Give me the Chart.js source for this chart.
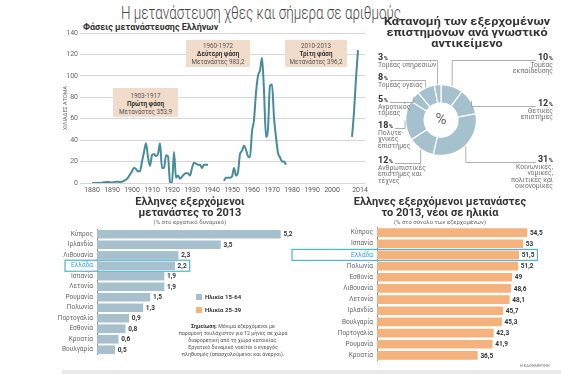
<!DOCTYPE html>
<html>
<head>
<meta charset="utf-8">
<script src="https://cdn.jsdelivr.net/npm/chart.js@4.4.1/dist/chart.umd.min.js"></script>
<style>
  body { margin: 0; background: #fff; font-family: Roboto, 'Liberation Sans', sans-serif; }
  #wrap { position: relative; width: 561px; height: 374px; overflow: hidden; background: #fff; }
  canvas { position: absolute; }
  .t { position: absolute; white-space: nowrap; color: #333; }
  .c { text-align: center; }
  .box { position: absolute; background: #f1dccb; color: #555; font-size: 6.3px; line-height: 8px; text-align: center; padding-top: 2px; box-sizing: border-box; }
  .box b { color: #333; }
  .sq { position: absolute; width: 6px; height: 6px; }
</style>
</head>
<body>
<div id="wrap">
  <div class="t c" style="left:0;width:522px;top:1px;font-size:19px;font-weight:300;color:#444;"><span id="mainTitle" style="display:inline-block;transform-origin:50% 50%;">Η μετανάστευση χθες και σήμερα σε αριθμούς</span></div>
  <div class="t" style="left:83px;top:22px;font-size:9px;font-weight:bold;color:#333;">Φάσεις μετανάστευσης Ελλήνων</div>

  <canvas id="lineChart" width="375" height="178" style="left:0;top:20px;"></canvas>

  <div class="box" style="left:113px;top:88px;width:65px;height:29px;padding-top:4px;">1903-1917<br><b>Πρώτη φάση</b><br>Μετανάστες 353,9</div>
  <div class="box" style="left:186px;top:40px;width:64px;height:27px;">1960-1972<br><b>Δεύτερη φάση</b><br>Μετανάστες 983,2</div>
  <div class="box" style="left:285px;top:40px;width:62px;height:27px;">2010-2013<br><b>Τρίτη φάση</b><br>Μετανάστες 396,2</div>

  <div class="t c" style="left:367px;width:200px;top:16px;font-size:10.8px;line-height:11px;font-weight:bold;color:#333;transform:scaleX(1.17);transform-origin:50% 0;">Κατανομή των εξερχομένων<br>επιστημόνων ανά γνωστικό<br>αντικείμενο</div>
  <canvas id="donutChart" width="191" height="145" style="left:370px;top:50px;"></canvas>

  <div class="t c" style="left:90px;width:200px;top:196px;font-size:11px;line-height:11px;font-weight:bold;color:#333;">Ελληνες εξερχόμενοι<br>μετανάστες το 2013</div>
  <div class="t c" style="left:90px;width:200px;top:218px;font-size:6px;color:#666;">(% στο εργατικό δυναμικό)</div>
  <canvas id="barLeft" width="310" height="126" style="left:0;top:229px;"></canvas>

  <div class="sq" style="left:196px;top:294px;background:#a7c0cd;"></div>
  <div class="t" style="left:205px;top:293px;font-size:6px;font-weight:bold;color:#333;">Ηλικία 15-64</div>
  <div class="sq" style="left:196px;top:307px;background:#f5b27c;"></div>
  <div class="t" style="left:205px;top:306px;font-size:6px;font-weight:bold;color:#333;">Ηλικία 25-39</div>

  <div class="t c" style="left:133px;width:200px;top:323px;font-size:5.3px;line-height:7px;color:#555;"><b style="color:#333">Σημείωση:</b> Μόνιμα εξερχόμενοι με<br>παραμονή τουλάχιστον για 12 μήνες σε χώρα<br>διαφορετική από τη χώρα κατοικίας.<br>Εργατικό δυναμικό νοείται ο ενεργός<br>πληθυσμός (απασχολούμενοι και άνεργοι).</div>

  <div class="t c" style="left:340px;width:200px;top:196px;font-size:11px;line-height:11px;font-weight:bold;color:#333;">Ελληνες εξερχόμενοι μετανάστες<br>το 2013, νέοι σε ηλικία</div>
  <div class="t c" style="left:340px;width:200px;top:218px;font-size:6px;color:#666;">(% στο σύνολο των εξερχομένων)</div>
  <canvas id="barRight" width="271" height="134" style="left:290px;top:227px;"></canvas>

  <div class="t" style="left:520px;top:363px;font-size:4px;color:#777;">Η ΚΑΘΗΜΕΡΙΝΗ</div>
  <div style="position:absolute;left:62px;top:370px;width:499px;height:4px;background:#e9e9e9;"></div>
</div>

<script>
// --- line chart: emigrants in thousands, three phases
const phase1Years = [1880, 1882, 1885, 1888, 1890, 1892, 1894, 1896, 1898, 1899, 1900, 1901, 1902, 1903, 1904, 1905, 1906, 1907, 1908, 1909, 1910, 1911, 1912, 1913, 1914, 1915, 1916, 1917, 1918, 1919, 1920, 1921, 1922, 1923, 1924, 1925, 1926, 1927, 1928, 1929, 1930, 1931, 1932, 1933, 1934, 1935, 1936, 1937, 1938];
const phase1Values = [0, 0, 0.3, 1, 0.5, 1.2, 1, 2, 5, 8, 11, 14, 13, 11, 11, 20, 29, 37, 24, 16, 26, 27, 25, 27, 37, 14, 14, 26, 25, 1, 0, 29, 5, 7, 4, 6, 8, 9, 9, 7, 14, 19, 18, 17, 17, 14, 17, 17, 17];
const phase2Years = [1946, 1947, 1948, 1949, 1950, 1951, 1952, 1953, 1954, 1955, 1956, 1957, 1958, 1959, 1960, 1961, 1962, 1963, 1964, 1965, 1966, 1967, 1968, 1969, 1970, 1971, 1972, 1973, 1974, 1975, 1976, 1977];
const phase2Values = [2, 5, 5, 5, 6, 14, 7, 10, 27, 30, 35, 31, 25, 24, 48, 59, 84, 100, 105, 117, 86, 43, 51, 91, 92, 61, 43, 28, 24, 20, 20, 17];
const phase3Years = [2010, 2011, 2012, 2013];
const phase3Values = [43, 66, 98, 124];
const yearTicks = [1880, 1890, 1900, 1910, 1920, 1930, 1940, 1950, 1960, 1970, 1980, 1990, 2000, 2014];

// --- doughnut: scientists by field (%), clockwise from the top
const fieldLabels = [
  ['Τομέας', 'εκπαίδευσης'],
  ['Θετικές', 'επιστήμες'],
  ['Κοινωνικές,', 'νομικές,', 'πολιτικές και', 'οικονομικές'],
  ['Ανθρωπιστικές', 'επιστήμες και', 'τέχνες'],
  ['Πολυτε-', 'χνικές', 'επιστήμες'],
  ['Αγροτικός', 'τομέας'],
  ['Τομέας υγείας'],
  ['Τομέας υπηρεσιών']
];
const fieldShares = [10, 12, 31, 12, 18, 5, 8, 3];

// --- bars
const workforceCountries = ['Κύπρος', 'Ιρλανδία', 'Λιθουανία', 'Ελλάδα', 'Ισπανία', 'Λετονία', 'Ρουμανία', 'Πολωνία', 'Πορτογαλία', 'Εσθονία', 'Κροατία', 'Βουλγαρία'];
const workforceShare = [5.2, 3.5, 2.3, 2.2, 1.9, 1.9, 1.5, 1.3, 0.9, 0.8, 0.6, 0.5];
const youngCountries = ['Κύπρος', 'Ισπανία', 'Ελλάδα', 'Πολωνία', 'Εσθονία', 'Λιθουανία', 'Λετονία', 'Ιρλανδία', 'Βουλγαρία', 'Πορτογαλία', 'Ρουμανία', 'Κροατία'];
const youngShare = [54.5, 53, 51.5, 51.2, 49, 48.6, 48.1, 45.7, 45.3, 42.3, 41.9, 36.5];

// squeeze the headline to the narrow width of the original
const mt = document.getElementById('mainTitle');
mt.style.transform = 'scaleX(' + (280 / mt.getBoundingClientRect().width) + ')';

const FONT = 'Roboto, "Liberation Sans", sans-serif';
Chart.defaults.font.family = FONT;
Chart.defaults.animation = false;
Chart.defaults.responsive = false;
Chart.defaults.plugins.legend.display = false;
Chart.defaults.plugins.tooltip.enabled = false;

const teal = '#468c99';
const toPts = (xs, ys) => xs.map((x, i) => ({ x: x, y: ys[i] }));
const lineDs = (xs, ys) => ({
  data: toPts(xs, ys), borderColor: teal, borderWidth: 2, pointRadius: 0,
  fill: false, cubicInterpolationMode: 'monotone'
});

new Chart(document.getElementById('lineChart'), {
  type: 'line',
  data: { datasets: [lineDs(phase1Years, phase1Values), lineDs(phase2Years, phase2Values), lineDs(phase3Years, phase3Values)] },
  options: {
    layout: { padding: { top: 13, right: 10, left: 62, bottom: 0 } },
    scales: {
      x: {
        type: 'linear', min: 1875.5, max: 2016.5,
        grid: { display: false, drawTicks: false }, border: { display: false },
        afterBuildTicks: s => { s.ticks = yearTicks.map(v => ({ value: v })); },
        afterFit: s => { s.height = 15; },
        ticks: { callback: v => String(v), font: { size: 7 }, color: '#555', maxRotation: 0, autoSkip: false, padding: 3 }
      },
      y: {
        min: 0, max: 140,
        grid: { color: '#d6d6d6', tickLength: 3, lineWidth: 1 },
        border: { display: false },
        afterFit: s => { s.width = 21; },
        ticks: { stepSize: 10, font: { size: 7 }, color: '#666', padding: 2 },
        title: { display: true, text: 'ΧΙΛΙΑΔΕΣ ΑΤΟΜΑ', font: { size: 5.5 }, color: '#666', padding: 0 }
      }
    }
  }
});

// doughnut labels with elbow leader lines
const donutLabelPos = [[553, 60, 'r'], [553, 106, 'r'], [553, 162, 'r'], [378, 163, 'l'], [378, 128, 'l'], [378, 102, 'l'], [378, 80, 'l'], [378, 60, 'l']];
const donutOffset = [370, 50];
const donutLabelsPlugin = {
  id: 'donutLabels',
  afterDraw(chart) {
    const ctx = chart.ctx;
    const arcs = chart.getDatasetMeta(0).data;
    ctx.save();
    ctx.fillStyle = '#666';
    ctx.font = '15px ' + FONT;
    ctx.textAlign = 'center';
    ctx.textBaseline = 'middle';
    ctx.fillText('%', arcs[0].x, arcs[0].y);
    ctx.textBaseline = 'alphabetic';
    arcs.forEach((arc, i) => {
      const [px, py, side] = donutLabelPos[i];
      const x = px - donutOffset[0], y = py - donutOffset[1];
      const num = String(fieldShares[i]);
      ctx.font = 'bold 9px ' + FONT;
      const wNum = ctx.measureText(num).width;
      ctx.font = 'bold 5.8px ' + FONT;
      const wPct = ctx.measureText('%').width;
      const w = wNum + wPct + 0.5;
      const x0 = side === 'l' ? x : x - w;
      ctx.fillStyle = '#333';
      ctx.textAlign = 'left';
      ctx.font = 'bold 9px ' + FONT;
      ctx.fillText(num, x0, y);
      ctx.font = 'bold 5.8px ' + FONT;
      ctx.fillText('%', x0 + wNum + 0.5, y);
      ctx.font = '6.8px ' + FONT;
      ctx.fillStyle = '#707070';
      ctx.textAlign = side === 'l' ? 'left' : 'right';
      fieldLabels[i].forEach((ln, k) => ctx.fillText(ln, x, y + 6.6 * (k + 1)));
      // leader line
      const mid = (arc.startAngle + arc.endAngle) / 2;
      const r = arc.outerRadius + 0.5;
      const sx = arc.x + Math.cos(mid) * r, sy = arc.y + Math.sin(mid) * r;
      const ax = side === 'l' ? x0 + w + 2 : x0 - 2;
      ctx.strokeStyle = '#9a9a9a';
      ctx.lineWidth = 0.8;
      ctx.beginPath();
      ctx.moveTo(sx, sy);
      ctx.lineTo(sx, y + 0.5);
      ctx.lineTo(ax, y + 0.5);
      ctx.stroke();
    });
    ctx.restore();
  }
};

new Chart(document.getElementById('donutChart'), {
  type: 'doughnut',
  data: {
    labels: fieldLabels.map(l => l.join(' ')),
    datasets: [{ data: fieldShares, backgroundColor: '#a5c1ce', borderColor: '#fff', borderWidth: 1.2 }]
  },
  options: {
    cutout: '48%',
    layout: { padding: { left: 35, right: 84, top: 34, bottom: 39 } }
  },
  plugins: [donutLabelsPlugin]
});

// horizontal bars with value labels and a framed "Ελλάδα" row
const fmt = v => String(v).replace('.', ',');
const barExtras = (frameLeft) => ({
  id: 'barExtras',
  afterDatasetsDraw(chart) {
    const ctx = chart.ctx;
    const meta = chart.getDatasetMeta(0);
    const vals = chart.data.datasets[0].data;
    ctx.save();
    ctx.font = 'bold 6.5px ' + FONT;
    ctx.fillStyle = '#333';
    ctx.textBaseline = 'middle';
    ctx.textAlign = 'left';
    meta.data.forEach((bar, i) => {
      const txt = fmt(vals[i]);
      ctx.fillText(txt, bar.x + 3, bar.y + 0.5);
      if (chart.data.labels[i] === 'Ελλάδα') {
        const right = bar.x + 3 + ctx.measureText(txt).width + 3;
        ctx.strokeStyle = '#4db6d0';
        ctx.lineWidth = 1.2;
        ctx.strokeRect(frameLeft, bar.y - 5.5, right - frameLeft, 11);
      }
    });
    ctx.restore();
  }
});

function barChart(id, labels, values, color, max, axisWidth, thickness, frameLeft) {
  return new Chart(document.getElementById(id), {
    type: 'bar',
    data: { labels: labels, datasets: [{ data: values, backgroundColor: color, barThickness: thickness }] },
    options: {
      indexAxis: 'y',
      layout: { padding: { right: 19 } },
      scales: {
        x: { display: false, min: 0, max: max },
        y: {
          grid: { display: false, drawTicks: false },
          border: { display: true, color: '#8a8a8a', width: 1 },
          afterFit: s => { s.width = axisWidth; s.paddingTop = 0; s.paddingBottom = 0; },
          ticks: {
            autoSkip: false, font: { size: 6.5 }, padding: 4,
            color: c => (labels[c.index] === 'Ελλάδα' ? '#2fa6c6' : '#666')
          }
        }
      }
    },
    plugins: [barExtras(frameLeft)]
  });
}

barChart('barLeft', workforceCountries, workforceShare, '#a7c0cd', 5.5, 97, 8, 65);
barChart('barRight', youngCountries, youngShare, '#f5b27c', 60, 87, 8, 2);
</script>
</body>
</html>
